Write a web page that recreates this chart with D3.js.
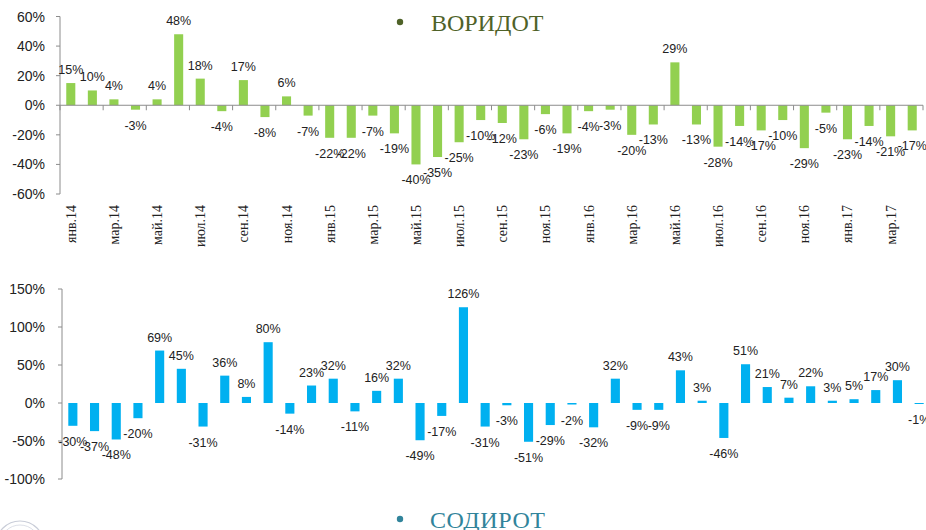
<!DOCTYPE html>
<html>
<head>
<meta charset="utf-8">
<script src="https://cdn.jsdelivr.net/npm/d3@7"></script>
<style>
	body { margin: 0; background: #fff; }
	svg { display: block; }
</style>
</head>
<body>
<div id="chart"></div>
<script>
// months Jan 2014 - Apr 2017
const months = [
	"янв.14","фев.14","мар.14","апр.14","май.14","июн.14","июл.14","авг.14","сен.14","окт.14","ноя.14","дек.14",
	"янв.15","фев.15","мар.15","апр.15","май.15","июн.15","июл.15","авг.15","сен.15","окт.15","ноя.15","дек.15",
	"янв.16","фев.16","мар.16","апр.16","май.16","июн.16","июл.16","авг.16","сен.16","окт.16","ноя.16","дек.16",
	"янв.17","фев.17","мар.17","апр.17"
];
// imports, % y/y
const imports = [
	15, 10, 4, -3, 4, 48, 18, -4, 17, -8, 6, -7,
	-22, -22, -7, -19, -40, -35, -25, -10, -12, -23, -6, -19,
	-4, -3, -20, -13, 29, -13, -28, -14, -17, -10, -29, -5,
	-23, -14, -21, -17
];
// exports, % y/y
const exports = [
	-30, -37, -48, -20, 69, 45, -31, 36, 8, 80, -14, 23,
	32, -11, 16, 32, -49, -17, 126, -31, -3, -51, -29, -2,
	-32, 32, -9, -9, 43, 3, -46, 51, 21, 7, 22, 3,
	5, 17, 30, -1
];
const importTicks = [60, 40, 20, 0, -20, -40, -60];
const exportTicks = [150, 100, 50, 0, -50, -100];

const W = 926, H = 530;
const svg = d3.select("#chart").append("svg")
	.attr("width", W).attr("height", H)
	.attr("viewBox", "0 0 " + W + " " + H);

const sans = "'Liberation Sans', Arial, sans-serif";
const serif = "'Liberation Serif', 'Times New Roman', serif";
const axisColor = "#8c8c8c";

function panel(opts) {
	const x = d3.scaleBand().domain(months).range(opts.xr).paddingInner(0.58).paddingOuter(0.29);
	const y = d3.scaleLinear().domain(opts.dom).range(opts.yr);
	const g = svg.append("g");

	// y axis
	g.append("line").attr("x1", opts.xr[0]).attr("x2", opts.xr[0])
		.attr("y1", y(opts.dom[1])).attr("y2", y(opts.dom[0]))
		.attr("stroke", axisColor);
	g.selectAll(".yt").data(opts.ticks).enter().append("line")
		.attr("x1", opts.xr[0] - 4).attr("x2", opts.xr[0])
		.attr("y1", d => y(d)).attr("y2", d => y(d))
		.attr("stroke", axisColor);
	g.selectAll(".yl").data(opts.ticks).enter().append("text")
		.attr("x", 45).attr("y", d => y(d) + 5)
		.attr("text-anchor", "end")
		.attr("font-family", sans).attr("font-size", 14).attr("fill", "#222")
		.text(d => d + "%");

	// bars
	g.selectAll(".bar").data(opts.values).enter().append("rect")
		.attr("x", (d, i) => x(months[i]))
		.attr("width", x.bandwidth())
		.attr("y", d => y(Math.max(0, d)))
		.attr("height", d => Math.max(1, Math.abs(y(d) - y(0))))
		.attr("fill", opts.color);

	// labels
	g.selectAll(".lbl").data(opts.values).enter().append("text")
		.attr("x", (d, i) => x(months[i]) + x.bandwidth() / 2)
		.attr("y", d => d >= 0 ? y(d) - 9 : y(d) + 20)
		.attr("text-anchor", "middle")
		.attr("font-family", sans).attr("font-size", 12.5).attr("fill", "#222")
		.text(d => d + "%");

	return { x: x, y: y, g: g };
}

// imports panel
const imp = panel({ xr: [60, 923], yr: [194, 16.5], dom: [-60, 60], ticks: importTicks, values: imports, color: "#92D050" });

// x axis on zero line
imp.g.append("line").attr("x1", 60).attr("x2", 923)
	.attr("y1", imp.y(0)).attr("y2", imp.y(0)).attr("stroke", axisColor);
const step = imp.x.step();
imp.g.selectAll(".xt").data(d3.range(0, months.length + 1, 2)).enter().append("line")
	.attr("x1", d => 60 + d * step)
	.attr("x2", d => 60 + d * step)
	.attr("y1", imp.y(0)).attr("y2", imp.y(0) + 5)
	.attr("stroke", axisColor);
imp.g.selectAll(".xl").data(months.filter((m, i) => i % 2 == 0)).enter().append("text")
	.attr("transform", d => "translate(" + (imp.x(d) + imp.x.bandwidth() / 2 + 5) + ",205) rotate(-90)")
	.attr("text-anchor", "end")
	.attr("font-family", serif).attr("font-size", 14).attr("fill", "#222")
	.text(d => d);

// exports panel
panel({ xr: [62, 930], yr: [479, 289], dom: [-100, 150], ticks: exportTicks, values: exports, color: "#00B0F0" });

// titles
svg.append("circle").attr("cx", 400).attr("cy", 22).attr("r", 3.2).attr("fill", "#4F6228");
svg.append("text").attr("x", 431).attr("y", 31)
	.attr("font-family", serif).attr("font-size", 24).attr("fill", "#4F6228")
	.text("ВОРИДОТ");
svg.append("circle").attr("cx", 400).attr("cy", 519).attr("r", 3.2).attr("fill", "#31849B");
svg.append("text").attr("x", 430).attr("y", 528)
	.attr("font-family", serif).attr("font-size", 24).attr("fill", "#31849B")
	.attr("textLength", 115)
	.text("СОДИРОТ");

// faint logo in the corner
svg.append("circle").attr("cx", 20).attr("cy", 545).attr("r", 24)
	.attr("fill", "none").attr("stroke", "#c9cdd8").attr("stroke-width", 1.2);
svg.append("circle").attr("cx", 20).attr("cy", 545).attr("r", 20)
	.attr("fill", "none").attr("stroke", "#dde0e8").attr("stroke-width", 1);
</script>
</body>
</html>
